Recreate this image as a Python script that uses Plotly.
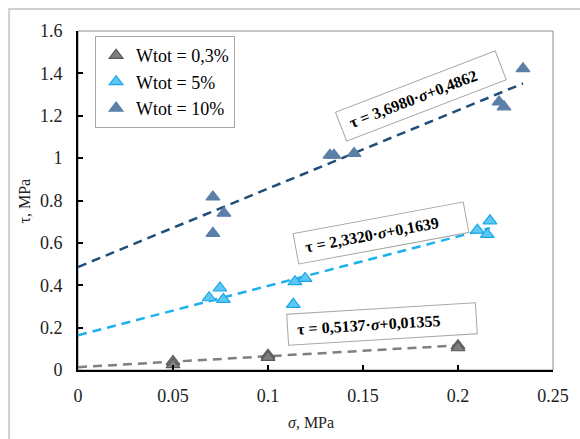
import plotly.graph_objects as go

# ---- data ----
series_names = ["Wtot = 0,3%", "Wtot = 5%", "Wtot = 10%"]

sigma_03 = [0.05, 0.05, 0.10, 0.10, 0.20, 0.20]
tau_03 = [0.04, 0.025, 0.07, 0.06, 0.115, 0.105]

sigma_5 = [0.069, 0.0747, 0.0765, 0.1133, 0.1142, 0.1195, 0.2102, 0.2168, 0.2154]
tau_5 = [0.341, 0.387, 0.333, 0.310, 0.417, 0.432, 0.660, 0.704, 0.640]

sigma_10 = [0.071, 0.071, 0.0768, 0.1326, 0.1347, 0.1453, 0.2216, 0.2242, 0.2342]
tau_10 = [0.817, 0.645, 0.740, 1.014, 1.014, 1.022, 1.265, 1.242, 1.422]

slopes = [0.5137, 2.3320, 3.6980]
intercepts = [0.01355, 0.1639, 0.4862]
equation_labels = ["τ = 0,5137·<i>σ</i>+0,01355",
                   "τ = 2,3320·<i>σ</i>+0,1639",
                   "τ = 3,6980·<i>σ</i>+0,4862"]

x_title = "<i>σ</i>, MPa"
y_title = "τ, MPa"

x_tickvals = [0, 0.05, 0.10, 0.15, 0.20, 0.25]
x_ticktext = ["0", "0.05", "0.1", "0.15", "0.2", "0.25"]
y_tickvals = [0, 0.2, 0.4, 0.6, 0.8, 1.0, 1.2, 1.4, 1.6]
y_ticktext = ["0", "0.2", "0.4", "0.6", "0.8", "1", "1.2", "1.4", "1.6"]

# ---- styles ----
FONT = "Liberation Serif"
marker_fill = ["#7f7f7f", "#5cc8f2", "#5b7fa6"]
marker_edge = ["#5a5a5a", "#1aa6e6", "#5b7fa6"]
line_colors = ["#7f7f7f", "#1cb0ee", "#1f4e79"]

fig = go.Figure()

xs_all = [sigma_03, sigma_5, sigma_10]
ys_all = [tau_03, tau_5, tau_10]

# trend lines
for i in range(3):
    xe = max(xs_all[i])
    lx = [0, xe]
    ly = [slopes[i] * v + intercepts[i] for v in lx]
    fig.add_trace(go.Scatter(x=lx, y=ly, mode="lines", showlegend=False,
                             line=dict(color=line_colors[i], width=2.5, dash="9px,6px"),
                             hoverinfo="skip"))

# points
for i in range(3):
    fig.add_trace(go.Scatter(x=xs_all[i], y=ys_all[i], mode="markers", name=series_names[i],
                             marker=dict(symbol="triangle-up", size=12, color=marker_fill[i],
                                         line=dict(color=marker_edge[i], width=1.2))))

# equation annotations (centre in data coords, angle, box width)
ann_pos = [(0.16, 0.217, -3.5, 186), (0.1595, 0.646, -10.5, 170), (0.1805, 1.292, -21, 168)]
for i in range(3):
    ax, ay, ang, w = ann_pos[i]
    fig.add_annotation(x=ax, y=ay, xref="x", yref="y",
                       text="&nbsp;&nbsp;<b>" + equation_labels[i] + "</b>",
                       showarrow=False, textangle=ang, width=w, height=28, align="left",
                       font=dict(family=FONT, size=16, color="black"),
                       bgcolor="white", bordercolor="#a6a6a6", borderwidth=1, borderpad=1,
                       xanchor="center", yanchor="middle")

# axis titles
fig.add_annotation(x=0.49, y=-0.156, xref="paper", yref="paper", text=x_title, showarrow=False,
                   font=dict(family=FONT, size=16, color="#222222"), xanchor="center", yanchor="middle")
fig.add_annotation(x=-0.1116, y=0.5, xref="paper", yref="paper", text=y_title, showarrow=False,
                   textangle=-90, font=dict(family=FONT, size=16, color="#222222"),
                   xanchor="center", yanchor="middle")

# plot-area border and outer frame
fig.add_shape(type="rect", xref="paper", yref="paper", x0=0, x1=1, y0=0, y1=1,
              line=dict(color="#8c8c8c", width=1), layer="below")
fig.add_shape(type="rect", xref="paper", yref="paper", x0=-0.145, x1=1.08, y0=-0.25, y1=1.065,
              line=dict(color="#d0d0d0", width=2), layer="below")

axis_common = dict(showgrid=False, zeroline=False, showline=True, linecolor="black", linewidth=2,
                   ticks="inside", ticklen=5, tickwidth=2, tickcolor="black",
                   tickfont=dict(family=FONT, size=18, color="#222222"))

fig.update_layout(
    width=580, height=439,
    margin=dict(l=78, r=27, t=31, b=69),
    paper_bgcolor="white", plot_bgcolor="white",
    font=dict(family=FONT),
    xaxis=dict(range=[0, 0.25], tickvals=x_tickvals, ticktext=x_ticktext,
               ticklabelstandoff=8, **axis_common),
    yaxis=dict(range=[0, 1.6], tickvals=y_tickvals, ticktext=y_ticktext,
               ticklabelstandoff=10, **axis_common),
    legend=dict(x=0.036, y=0.985, xanchor="left", yanchor="top",
                bordercolor="#a6a6a6", borderwidth=1, bgcolor="white",
                font=dict(family=FONT, size=18, color="black"), itemwidth=30),
    showlegend=True,
)

fig.write_html("out.html", config={"displayModeBar": False},
               post_script="document.body.style.margin='0';document.body.style.padding='0';")
